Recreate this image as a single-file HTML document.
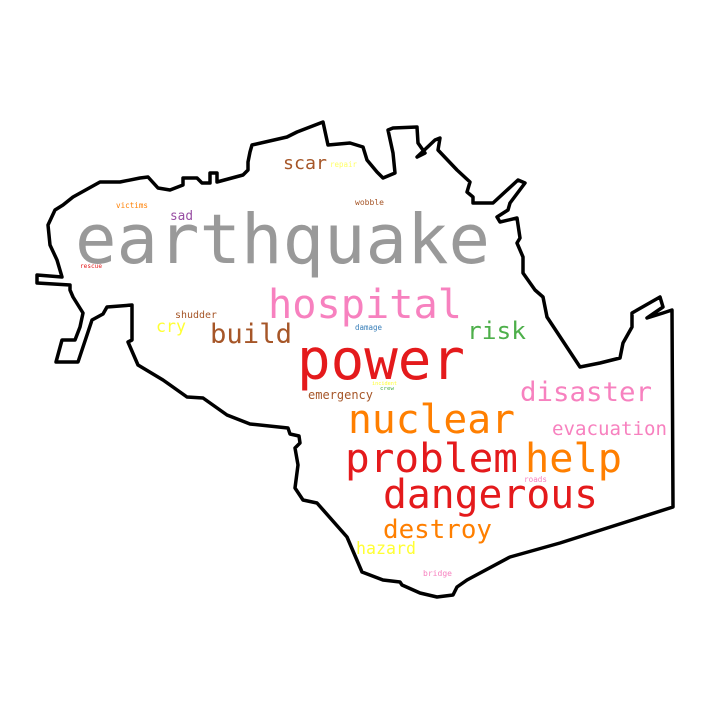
<!DOCTYPE html>
<html><head><meta charset="utf-8">
<style>html,body{margin:0;padding:0;background:#fff;}svg{display:block;}
text{font-family:"DejaVu Sans Mono","Liberation Mono",monospace;}</style></head>
<body>
<svg width="720" height="720" viewBox="0 0 720 720">
<rect width="720" height="720" fill="#fff"/>
<polygon fill="#fff" stroke="#000" stroke-width="3.5" stroke-linejoin="round"
points="37,283 37,275 62,277 57,260 50,245 48,225 55,210 63,205 73,197 100,182 120,182 140,178 148,177 158,188 170,190 183,185 183,178 197,178 202,183 210,183 210,173 217,173 217,182 243,175 248,170 248,162 250,152 252,145 287,137 297,132 310,127 323,122 328,145 350,143 363,147 367,160 377,172 383,178 395,173 393,153 388,130 393,128 417,127 418,143 425,153 417,157 435,140 440,138 438,150 457,170 470,182 467,192 473,197 473,203 493,203 518,180 525,183 510,203 508,210 497,217 500,222 517,218 520,238 517,243 523,257 523,273 535,290 543,297 547,317 580,367 600,363 620,358 623,343 632,327 632,313 660,297 663,307 647,318 663,313 672,310 673,507 560,543 510,557 467,580 457,587 453,595 437,597 420,593 402,585 400,582 383,580 362,572 347,537 317,503 303,500 295,488 298,465 295,448 300,443 299,436 290,434 288,428 250,424 227,415 203,398 187,397 163,380 138,365 128,342 132,340 132,305 107,307 103,314 92,320 78,362 56,362 62,340 75,340 80,327 83,313 73,297 70,290 70,285"/>
<g>
<text x="75" y="263" font-size="69" fill="#999999" textLength="415" lengthAdjust="spacingAndGlyphs">earthquake</text>
<text x="268" y="318" font-size="40" fill="#f781bf" textLength="194" lengthAdjust="spacingAndGlyphs">hospital</text>
<text x="297" y="379" font-size="56" fill="#e41a1c" textLength="168" lengthAdjust="spacingAndGlyphs">power</text>
<text x="348" y="433" font-size="40" fill="#ff7f00" textLength="167" lengthAdjust="spacingAndGlyphs">nuclear</text>
<text x="345" y="472" font-size="40" fill="#e41a1c" textLength="173" lengthAdjust="spacingAndGlyphs">problem</text>
<text x="525" y="472" font-size="40" fill="#ff7f00" textLength="97" lengthAdjust="spacingAndGlyphs">help</text>
<text x="383" y="508" font-size="40" fill="#e41a1c" textLength="215" lengthAdjust="spacingAndGlyphs">dangerous</text>
<text x="520" y="401" font-size="27" fill="#f781bf" textLength="132" lengthAdjust="spacingAndGlyphs">disaster</text>
<text x="552" y="435" font-size="19" fill="#f781bf" textLength="115" lengthAdjust="spacingAndGlyphs">evacuation</text>
<text x="383" y="538" font-size="26" fill="#ff7f00" textLength="109" lengthAdjust="spacingAndGlyphs">destroy</text>
<text x="356" y="554" font-size="17" fill="#ffff33" textLength="60" lengthAdjust="spacingAndGlyphs">hazard</text>
<text x="467" y="339" font-size="24" fill="#4daf4a" textLength="59" lengthAdjust="spacingAndGlyphs">risk</text>
<text x="210" y="343" font-size="27" fill="#a65628" textLength="82" lengthAdjust="spacingAndGlyphs">build</text>
<text x="156" y="332" font-size="17" fill="#ffff33" textLength="30" lengthAdjust="spacingAndGlyphs">cry</text>
<text x="175" y="318" font-size="10" fill="#a65628" textLength="42" lengthAdjust="spacingAndGlyphs">shudder</text>
<text x="283" y="169" font-size="18" fill="#a65628" textLength="44" lengthAdjust="spacingAndGlyphs">scar</text>
<text x="330" y="167" font-size="7.5" fill="#ffff66" textLength="27" lengthAdjust="spacingAndGlyphs">repair</text>
<text x="170" y="220" font-size="13" fill="#984ea3" textLength="23" lengthAdjust="spacingAndGlyphs">sad</text>
<text x="116" y="208" font-size="7.6" fill="#ff7f00" textLength="32" lengthAdjust="spacingAndGlyphs">victims</text>
<text x="80" y="268" font-size="6" fill="#e41a1c" textLength="22" lengthAdjust="spacingAndGlyphs">rescue</text>
<text x="355" y="205" font-size="8" fill="#a65628" textLength="29" lengthAdjust="spacingAndGlyphs">wobble</text>
<text x="355" y="330" font-size="7.5" fill="#377eb8" textLength="27" lengthAdjust="spacingAndGlyphs">damage</text>
<text x="308" y="399" font-size="12" fill="#a65628" textLength="65" lengthAdjust="spacingAndGlyphs">emergency</text>
<text x="372" y="385" font-size="5" fill="#ffff33" textLength="25" lengthAdjust="spacingAndGlyphs">incident</text>
<text x="380" y="390" font-size="5.5" fill="#4daf4a" textLength="14" lengthAdjust="spacingAndGlyphs">crew</text>
<text x="524" y="482" font-size="7.6" fill="#f781bf" textLength="23" lengthAdjust="spacingAndGlyphs">roads</text>
<text x="423" y="576" font-size="8" fill="#f781bf" textLength="29" lengthAdjust="spacingAndGlyphs">bridge</text>
</g>
</svg>
</body></html>
